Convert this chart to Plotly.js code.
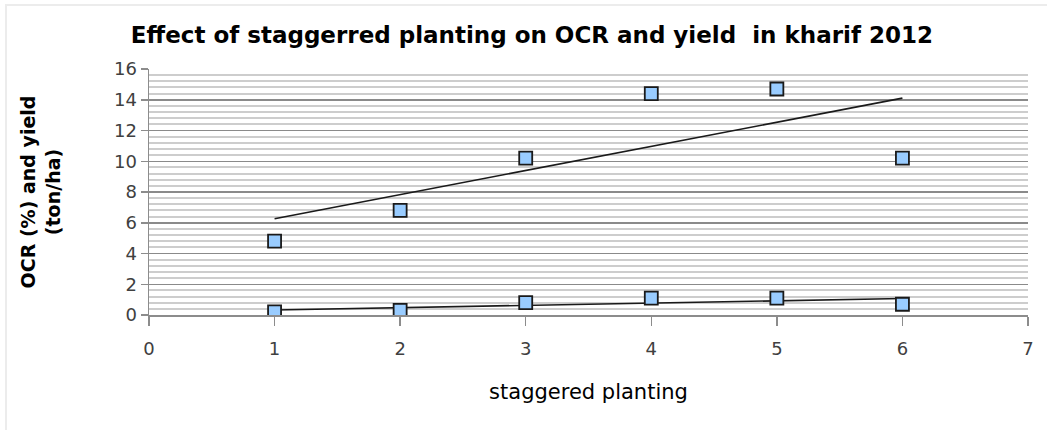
<!DOCTYPE html>
<html>
<head>
<meta charset="utf-8">
<script src="https://cdn.plot.ly/plotly-3.0.1.min.js"></script>
<style>
  html, body { margin: 0; padding: 0; background: #ffffff; }
  #frame { position: absolute; left: 5px; top: 4px; width: 1042px; height: 426px;
           border-left: 2px solid #ececec; border-top: 2px solid #ececec; box-sizing: border-box; }
  #chart { position: absolute; left: 0; top: 0; width: 1047px; height: 430px; }
</style>
</head>
<body>
<div id="frame"></div>
<div id="chart"></div>
<script>
// Planting dates (staggered sowings 1..6)
const planting = [1, 2, 3, 4, 5, 6];
// Yield (ton/ha) per sowing
const yieldTonHa = [4.8, 6.8, 10.2, 14.4, 14.7, 10.2];
// OCR (%) per sowing
const ocrPct = [0.2, 0.3, 0.8, 1.1, 1.1, 0.7];

// Least-squares straight line through a series, evaluated at its first and last x
function linearTrend(xs, ys) {
  const n = xs.length;
  const mx = xs.reduce((a, b) => a + b, 0) / n;
  const my = ys.reduce((a, b) => a + b, 0) / n;
  let sxy = 0, sxx = 0;
  for (let i = 0; i < n; i++) {
    sxy += (xs[i] - mx) * (ys[i] - my);
    sxx += (xs[i] - mx) * (xs[i] - mx);
  }
  const slope = sxy / sxx;
  const xEnds = [xs[0], xs[n - 1]];
  return { x: xEnds, y: xEnds.map(x => my + slope * (x - mx)) };
}

const markerStyle = {
  symbol: 'square', size: 13, color: '#99ccff',
  line: { color: '#1a1a1a', width: 1.8 }
};
const trendStyle = { color: '#1a1a1a', width: 1.6 };

const yieldTrend = linearTrend(planting, yieldTonHa);
const ocrTrend = linearTrend(planting, ocrPct);

const traces = [
  { x: yieldTrend.x, y: yieldTrend.y, mode: 'lines', line: trendStyle, hoverinfo: 'skip' },
  { x: ocrTrend.x, y: ocrTrend.y, mode: 'lines', line: trendStyle, hoverinfo: 'skip' },
  { x: planting, y: yieldTonHa, mode: 'markers', marker: markerStyle, name: 'yield' },
  { x: planting, y: ocrPct, mode: 'markers', marker: markerStyle, name: 'OCR' }
];

const FONT = 'DejaVu Sans, sans-serif';
const tickFont = { family: FONT, size: 18, color: '#404040' };

const layout = {
  width: 1047, height: 430,
  margin: { l: 149, r: 19, t: 69, b: 115 },
  paper_bgcolor: 'rgba(0,0,0,0)',
  plot_bgcolor: '#ffffff',
  showlegend: false,
  title: {
    text: '<b>Effect of staggerred planting on OCR and yield  in kharif 2012</b>',
    font: { family: FONT, size: 23, color: '#000000' },
    x: 0.508, xref: 'container', xanchor: 'center',
    y: 27, yref: 'container', yanchor: 'middle'
  },
  xaxis: {
    range: [0, 7], dtick: 1, tick0: 0,
    showgrid: false, zeroline: false,
    showline: true, linecolor: '#8c8c8c', linewidth: 1.5,
    ticks: 'outside', ticklen: 9, tickcolor: '#8c8c8c', tickwidth: 1.5,
    ticklabelstandoff: 8,
    tickfont: tickFont,
    title: { text: 'staggered planting', standoff: 26,
             font: { family: FONT, size: 21, color: '#000000' } }
  },
  yaxis: {
    range: [0, 16], dtick: 2, tick0: 0,
    showgrid: true, gridcolor: '#8a8a8a', gridwidth: 1.5,
    zeroline: false,
    showline: true, linecolor: '#8c8c8c', linewidth: 1.5,
    ticks: 'outside', ticklen: 7, tickcolor: '#8c8c8c', tickwidth: 1.5,
    tickfont: tickFont,
    minor: { dtick: 0.4, tick0: 0, showgrid: true, gridcolor: '#cdcdcd', gridwidth: 2, ticks: '' },
    title: { text: '<b>OCR (%) and yield<br>(ton/ha)</b>', standoff: 48,
             font: { family: FONT, size: 19, color: '#000000' } }
  }
};

Plotly.newPlot('chart', traces, layout, { displayModeBar: false, staticPlot: true });
</script>
</body>
</html>
